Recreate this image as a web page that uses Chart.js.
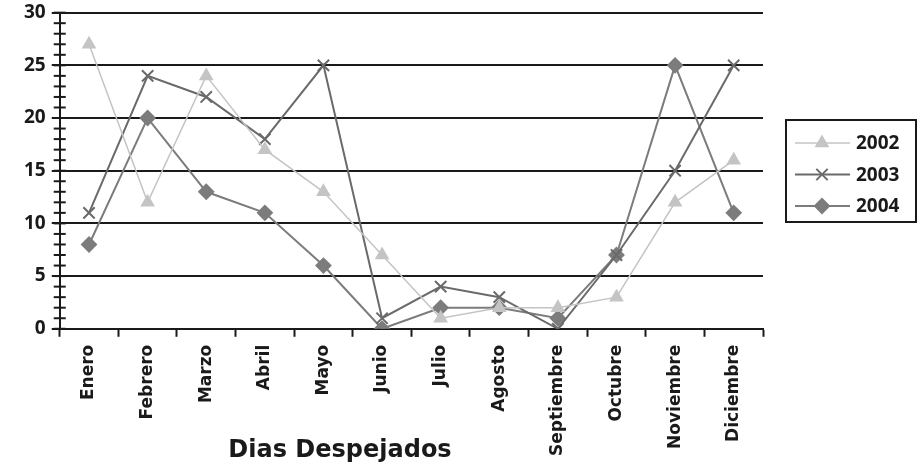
<!DOCTYPE html>
<html>
<head>
<meta charset="utf-8">
<script src="https://cdn.jsdelivr.net/npm/chart.js@4"></script>
<style>
  html, body { margin: 0; padding: 0; background: #fff; }
  #wrap { width: 921px; height: 464px; }
</style>
</head>
<body>
<div id="wrap"><canvas id="myChart" width="921" height="464"></canvas></div>
<script>
// chart data
const months = ['Enero', 'Febrero', 'Marzo', 'Abril', 'Mayo', 'Junio', 'Julio', 'Agosto', 'Septiembre', 'Octubre', 'Noviembre', 'Diciembre'];
const years = ['2002', '2003', '2004'];
const dias2002 = [27, 12, 24, 17, 13, 7, 1, 2, 2, 3, 12, 16];
const dias2003 = [11, 24, 22, 18, 25, 1, 4, 3, 0, 7, 15, 25];
const dias2004 = [8, 20, 13, 11, 6, 0, 2, 2, 1, 7, 25, 11];
const yTicks = [0, 5, 10, 15, 20, 25, 30];

const ink = '#1a1a1a';

// little ticks across the y axis + the bottom title + boxed legend
const extras = {
    id: 'extras',
    afterDraw(chart) {
        const c = chart.ctx;
        const y = chart.scales.y;
        const area = chart.chartArea;
        c.save();
        c.strokeStyle = ink;
        c.lineWidth = 2;
        for (let v = 0; v <= 30; v++) {
            const py = y.getPixelForValue(v);
            c.beginPath();
            c.moveTo(area.left - 6, py);
            c.lineTo(area.left + 6, py);
            c.stroke();
        }

        // bottom title
        c.fillStyle = ink;
        c.font = 'bold 24px "DejaVu Sans"';
        c.textAlign = 'center';
        c.textBaseline = 'alphabetic';
        c.fillText('Dias Despejados', 340, 457);

        // legend
        const box = { x: 786, y: 120, w: 130, h: 102 };
        c.lineWidth = 2;
        c.strokeStyle = ink;
        c.strokeRect(box.x, box.y, box.w, box.h);
        c.font = 'bold 19px "Open Sans"';
        c.textAlign = 'left';
        c.textBaseline = 'middle';
        chart.data.datasets.forEach((ds, i) => {
            const ly = box.y + 23 + i * 31.5;
            c.strokeStyle = ds.borderColor;
            c.fillStyle = ds.borderColor;
            c.lineWidth = ds.borderWidth;
            c.beginPath();
            c.moveTo(box.x + 9, ly);
            c.lineTo(box.x + 64, ly);
            c.stroke();
            Chart.helpers.drawPoint(c, {
                pointStyle: ds.pointStyle,
                radius: ds.pointRadius,
                borderWidth: ds.pointBorderWidth || ds.borderWidth
            }, box.x + 36, ly);
            c.fillStyle = ink;
            c.fillText(ds.label, box.x + 70, ly + 1);
        });
        c.restore();
    }
};

const makeSet = (label, values, color, style, radius, width) => ({
    label: label,
    data: values,
    borderColor: color,
    backgroundColor: color,
    borderWidth: width,
    pointStyle: style,
    pointRadius: radius,
    pointHoverRadius: radius,
    pointBorderWidth: width,
    pointBorderColor: color,
    pointBackgroundColor: color,
    tension: 0
});

const data = {
    labels: months,
    datasets: [
        makeSet(years[0], dias2002, '#c4c4c4', 'triangle', 7, 1.5),
        makeSet(years[1], dias2003, '#6a6a6a', 'crossRot', 8, 2),
        makeSet(years[2], dias2004, '#7c7c7c', 'rectRot', 7, 2)
    ]
};

const config = {
    type: 'line',
    data: data,
    options: {
        responsive: false,
        animation: false,
        layout: {
            padding: { left: 18, right: 158, top: 0, bottom: 0 }
        },
        scales: {
            x: {
                offset: true,
                grid: {
                    offset: true,
                    drawOnChartArea: false,
                    drawTicks: true,
                    tickLength: 8,
                    tickWidth: 2,
                    tickColor: ink
                },
                border: { color: ink, width: 2 },
                ticks: {
                    autoSkip: false,
                    maxRotation: 90,
                    minRotation: 90,
                    padding: 8,
                    color: ink,
                    font: { family: '"DejaVu Sans"', weight: 'bold', size: 17 }
                }
            },
            y: {
                min: 0,
                max: 30,
                afterBuildTicks: (scale) => {
                    scale.ticks = yTicks.map(v => ({ value: v }));
                },
                grid: {
                    color: ink,
                    lineWidth: 2,
                    tickLength: 8,
                    tickColor: ink
                },
                border: { color: ink, width: 2 },
                ticks: {
                    padding: 6,
                    color: ink,
                    font: { family: '"Open Sans"', weight: 'bold', size: 19, lineHeight: 0.7 }
                }
            }
        },
        plugins: {
            legend: { display: false },
            tooltip: { enabled: false }
        }
    },
    plugins: [extras]
};

new Chart(document.getElementById('myChart').getContext('2d'), config);
</script>
</body>
</html>
